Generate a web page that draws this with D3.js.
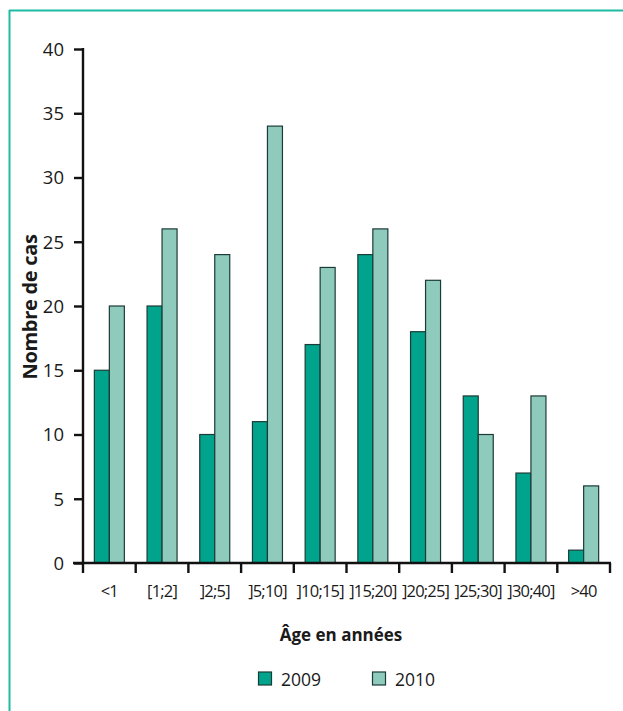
<!DOCTYPE html>
<html><head><meta charset="utf-8">
<script src="https://cdn.jsdelivr.net/npm/d3@7"></script>
<style>body{margin:0;background:#fff}svg{display:block}text{font-family:"Open Sans",sans-serif;fill:#1a1a1a}</style>
</head><body>
<script>
const categories = ["<1","[1;2]","]2;5]","]5;10]","]10;15]","]15;20]","]20;25]","]25;30]","]30;40]",">40"];
const series2009 = [15,20,10,11,17,24,18,13,7,1];
const series2010 = [20,26,24,34,23,26,22,10,13,6];
const seriesNames = ["2009","2010"];
const yTicks = [0,5,10,15,20,25,30,35,40];
const colors = ["#00a38c","#8ecbbd"];

const W=623,H=711;
const svg=d3.select("body").append("svg").attr("width",W).attr("height",H);
// frame
svg.append("line").attr("x1",9.5).attr("x2",9.5).attr("y1",10).attr("y2",H).attr("stroke","#1dbba3").attr("stroke-width",2);
svg.append("line").attr("x1",9).attr("x2",W).attr("y1",10.5).attr("y2",10.5).attr("stroke","#1dbba3").attr("stroke-width",2);

const x=d3.scaleBand().domain(categories).range([83,610]);
const y=d3.scaleLinear().domain([0,40]).range([563,49]);
const inner=d3.scaleBand().domain(seriesNames).range([0,30]);
const off=(x.bandwidth()-30)/2;

const data=categories.map((c,i)=>({c,vals:[series2009[i],series2010[i]]}));
const g=svg.append("g");
data.forEach(d=>{
  d.vals.forEach((v,j)=>{
    g.append("rect").attr("x",x(d.c)+off+inner(seriesNames[j])).attr("y",y(v))
     .attr("width",inner.bandwidth()).attr("height",y(0)-y(v))
     .attr("fill",colors[j]).attr("stroke","#1c3b36").attr("stroke-width",1.2);
  });
});

// y axis
const ya=svg.append("g").attr("transform","translate(83,0)")
  .call(d3.axisLeft(y).tickValues(yTicks).tickSize(9).tickPadding(10));
ya.select(".domain").attr("stroke","#111").attr("stroke-width",2.4).attr("d","M0,48V563");
ya.selectAll(".tick line").attr("stroke","#111").attr("stroke-width",2.4);
ya.selectAll("text").style("font-size","18.5px").style("font-family","'Open Sans',sans-serif").attr("fill","#1a1a1a").attr("dy","0.34em");

// x axis
const xa=svg.append("g").attr("transform","translate(0,563)")
  .call(d3.axisBottom(x).tickSize(0).tickPadding(0));
xa.select(".domain").remove();
xa.append("line").attr("x1",73).attr("x2",611).attr("y1",0).attr("y2",0).attr("stroke","#111").attr("stroke-width",2.4);
const bounds=[...categories.map(c=>x(c)),x.range()[1]];
xa.selectAll(".bt").data(bounds).join("line").attr("x1",d=>d).attr("x2",d=>d).attr("y1",0).attr("y2",10).attr("stroke","#111").attr("stroke-width",2.4);
xa.selectAll(".tick text").attr("y",34).attr("dy",0).style("font-size","16.5px").style("letter-spacing","-0.8px")
  .style("font-family","'Open Sans',sans-serif").attr("fill","#1a1a1a");

// axis titles
svg.append("text").attr("transform","translate(37,307) rotate(-90)").attr("text-anchor","middle")
  .style("font-size","20px").style("font-weight","bold").style("letter-spacing","-0.3px").text("Nombre de cas");
svg.append("text").attr("x",341).attr("y",641).attr("text-anchor","middle")
  .style("font-size","17px").style("font-weight","bold").text("Âge en années");

// legend
const lx=[258.5,372.5];
seriesNames.forEach((s,i)=>{
  svg.append("rect").attr("x",lx[i]).attr("y",672).attr("width",13).attr("height",13)
    .attr("fill",colors[i]).attr("stroke","#1c3b36").attr("stroke-width",1.2);
  svg.append("text").attr("x",lx[i]+22.5).attr("y",685.5).style("font-size","17.5px").text(s);
});
</script>
</body></html>
